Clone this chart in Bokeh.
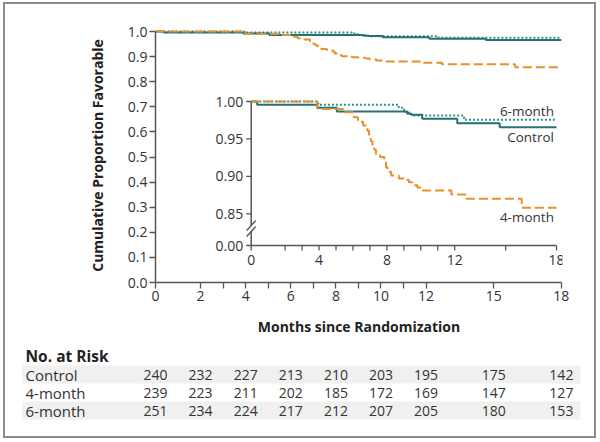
from bokeh.plotting import figure
from bokeh.layouts import column
from bokeh.models import Range1d, FixedTicker, NumeralTickFormatter
from bokeh.core.properties import value
from bokeh.embed import file_html
from bokeh.resources import INLINE

# ---------------- data ----------------
ctrl_t = [0, 0.35, 3.9, 5.05, 9.2, 9.45, 10.08, 12.15, 14.65, 18]
ctrl_s = [1.0, 0.9957, 0.9916, 0.9866, 0.9835, 0.9822, 0.9769, 0.9710, 0.9657, 0.9657]

m4_t = [0, 3.9, 5.45, 6.05, 6.3, 6.6, 6.85, 6.95, 7.05, 7.15, 7.25, 7.35, 7.6, 7.85,
        7.95, 8.05, 8.25, 8.7, 9.0, 9.3, 9.5, 9.8, 10.1, 11.8, 12.7, 15.95, 18]
m4_s = [1.0, 0.990, 0.9857, 0.979, 0.973, 0.968, 0.961, 0.952, 0.947, 0.942, 0.936, 0.930,
        0.926, 0.920, 0.912, 0.906, 0.901, 0.897, 0.895, 0.892, 0.888, 0.885, 0.881,
        0.8758, 0.870, 0.858, 0.858]

m6_t = [0, 3.95, 8.7, 8.9, 9.1, 9.3, 9.45, 12.55, 18]
m6_s = [1.0, 0.9956, 0.992, 0.989, 0.986, 0.983, 0.9813, 0.9756, 0.9756]

x_ticks = [0, 2, 3, 4, 5, 6, 7, 8, 9, 10, 11, 12, 15, 18]
x_labels_main = [0, 2, 4, 6, 8, 10, 12, 15, 18]
y_ticks_main = [0.0, 0.1, 0.2, 0.3, 0.4, 0.5, 0.6, 0.7, 0.8, 0.9, 1.0]
x_labels_inset = [0, 4, 8, 12, 18]
y_ticks_inset = [1.00, 0.95, 0.90, 0.85]
y_labels_inset = ["1.00", "0.95", "0.90", "0.85"]

risk_months = [0, 2, 4, 6, 8, 10, 12, 15, 18]
risk_groups = ["Control", "4-month", "6-month"]
risk_control = [240, 232, 227, 213, 210, 203, 195, 175, 142]
risk_4mo = [239, 223, 211, 202, 185, 172, 169, 147, 127]
risk_6mo = [251, 234, 224, 217, 212, 207, 205, 180, 153]

# ---------------- style / layout ----------------
FONT = "Open Sans"
C_CTRL = "#26707a"
C_6MO = "#2f8f80"
C_4MO = "#e8912c"
AX = "#555555"
TXT = "#333333"

BORDER = 2
MARGIN_X, MARGIN_Y = 3, 2
OFFX, OFFY = MARGIN_X + BORDER, MARGIN_Y + BORDER   # page offset of content
WA = 589                     # content width
PB_TOP = 340                 # page y where table figure starts
PB_BOT = 436                 # page y where content ends
HA = PB_TOP - OFFY
HB = PB_BOT - PB_TOP
PX0, PW = 155.0, 407         # page x of frame left, frame width
PY0, FH = 28.0, 254          # page y of frame top, frame height
X_END, Y_END = 18.05, 1.012
ppm_main = PW / X_END

# inset placement (page px)
IX0, IX18 = 250.7, 556.0
IY100, IY085 = 101.0, 213.3
IY_FLOOR = 245.0
IY_BREAK = 228.0

ppm = (IX18 - IX0) / 18.0
ppu = (IY085 - IY100) / 0.15
ix_start = -(IX0 - PX0) / ppm
ix_end = (PX0 + PW - IX0) / ppm
iy_end = 1.0 + (IY100 - PY0) / ppu
iy_start = 1.0 - (PY0 + FH - IY100) / ppu
floor_v = 1.0 - (IY_FLOOR - IY100) / ppu
break_v = 1.0 - (IY_BREAK - IY100) / ppu

FL = int(PX0 - OFFX)
FT = int(PY0 - OFFY)
p = figure(frame_width=PW, frame_height=FH, min_border_left=FL, min_border_top=FT,
           min_border_right=WA - FL - PW, min_border_bottom=HA - FT - FH,
           x_range=Range1d(0, X_END), y_range=Range1d(0, Y_END),
           output_backend="svg", toolbar_location=None)
p.extra_x_ranges = {"ix": Range1d(ix_start, ix_end)}
p.extra_y_ranges = {"iy": Range1d(iy_start, iy_end)}
p.outline_line_color = None
p.xgrid.visible = False
p.ygrid.visible = False
p.background_fill_color = "white"
p.border_fill_color = "white"

for ax in (p.xaxis[0], p.yaxis[0]):
    ax.axis_line_color = AX
    ax.axis_line_width = 1.5
    ax.major_tick_line_color = AX
    ax.major_tick_line_width = 1.3
    ax.major_tick_in = 0
    ax.major_tick_out = 6
    ax.minor_tick_line_color = None
    ax.major_label_text_font = FONT
    ax.major_label_text_font_size = "14px"
    ax.major_label_text_color = TXT
    ax.axis_label_text_font = FONT
    ax.axis_label_text_font_style = "bold"
    ax.axis_label_text_font_size = "14px"
    ax.axis_label_text_color = "#222222"

p.xaxis.ticker = FixedTicker(ticks=x_ticks)
p.xaxis.major_label_overrides = {t: "" for t in x_ticks if t not in x_labels_main}
p.xaxis.bounds = (0, 18)
p.xaxis.axis_label = "Months since Randomization"
p.xaxis.major_label_standoff = 2
p.xaxis.axis_label_standoff = 13

p.yaxis.ticker = FixedTicker(ticks=y_ticks_main)
p.yaxis.formatter = NumeralTickFormatter(format="0.0")
p.yaxis.bounds = (0, 1)
p.yaxis.axis_label = "Cumulative Proportion Favorable"
p.yaxis.major_label_standoff = 2
p.yaxis.axis_label_standoff = 18

# ---- main curves
p.step(m6_t, m6_s, mode="after", line_color=C_6MO, line_width=2, line_dash="2 2")
p.step(ctrl_t, ctrl_s, mode="after", line_color=C_CTRL, line_width=2)
p.step(m4_t, m4_s, mode="after", line_color=C_4MO, line_width=2, line_dash="9 4")

# ---- inset axes (drawn in inset scale)
tick_dx = 5.0 / ppm
tick_dy = 5.0 / ppu
gap = 3.0 / ppu
kw = dict(x_range_name="ix", y_range_name="iy")
p.segment(x0=[0, 0], y0=[1.0, break_v - gap], x1=[0, 0], y1=[break_v + gap, floor_v],
          line_color=AX, line_width=1.5, **kw)
p.segment(x0=[0], y0=[floor_v], x1=[18], y1=[floor_v], line_color=AX, line_width=1.5, **kw)
yt = y_ticks_inset + [floor_v]
p.segment(x0=[-tick_dx] * len(yt), y0=yt, x1=[0] * len(yt), y1=yt,
          line_color=AX, line_width=1.3, **kw)
p.segment(x0=x_ticks, y0=[floor_v] * len(x_ticks), x1=x_ticks,
          y1=[floor_v - tick_dy] * len(x_ticks), line_color=AX, line_width=1.3, **kw)
bx = 4.5 / ppm
by = 5.0 / ppu
p.segment(x0=[-bx, -bx], y0=[break_v - by - gap, break_v - by + gap],
          x1=[bx, bx], y1=[break_v + by - gap, break_v + by + gap],
          line_color=AX, line_width=1.3, **kw)

p.text(x=[-tick_dx] * len(yt), y=yt, text=y_labels_inset + ["0.00"], x_offset=-3,
       text_align="right", text_baseline="middle", text_font=value(FONT),
       text_font_size="14px", text_color=TXT, **kw)
p.text(x=x_labels_inset, y=[floor_v] * len(x_labels_inset),
       text=[str(v) for v in x_labels_inset], y_offset=9, text_align="center",
       text_baseline="top", text_font=value(FONT), text_font_size="14px",
       text_color=TXT, **kw)

# ---- inset curves
p.step(m6_t, m6_s, mode="after", line_color=C_6MO, line_width=2, line_dash="2 2", **kw)
p.step(ctrl_t, ctrl_s, mode="after", line_color=C_CTRL, line_width=2, **kw)
p.step(m4_t, m4_s, mode="after", line_color=C_4MO, line_width=2, line_dash="9 4", **kw)

p.text(x=[17.85, 17.85, 17.85], y=[m6_s[-1], ctrl_s[-1], m4_s[-1]],
       text=["6-month", "Control", "4-month"], y_offset=[-9, 10, 9.5],
       text_align="right", text_baseline="middle", text_font=value(FONT),
       text_font_size="13.5px", text_color=TXT, **kw)

# ---------------- number-at-risk table ----------------
bx_start = (OFFX - PX0) / ppm_main
bx_end = (OFFX + WA - PX0) / ppm_main
t = figure(width=WA, height=HB, min_border=0, x_range=Range1d(bx_start, bx_end),
           y_range=Range1d(PB_TOP + HB, PB_TOP), output_backend="svg",
           toolbar_location=None)
for fig in (p, t):
    if "frame_align" in fig.properties():
        fig.frame_align = False
t.extra_x_ranges = {"px": Range1d(OFFX, OFFX + WA)}
t.axis.visible = False
t.xgrid.visible = False
t.ygrid.visible = False
t.outline_line_color = None
t.background_fill_color = "white"
t.border_fill_color = "white"

row_y = [374, 392, 410]
ROW_H = 18
t.quad(left=[22, 22], right=[580, 580], top=[row_y[0] - ROW_H / 2, row_y[2] - ROW_H / 2],
       bottom=[row_y[0] + ROW_H / 2, row_y[2] + ROW_H / 2], fill_color="#f0f0f0",
       line_color=None, x_range_name="px")
t.text(x=[25], y=[355], text=["No. at Risk"], text_font=value(FONT),
       text_font_style="bold", text_font_size="15.5px", text_color="#222222",
       text_baseline="middle", x_range_name="px")
t.text(x=[25] * 3, y=row_y, text=risk_groups, text_font=value(FONT),
       text_font_size="15px", text_color=TXT, text_baseline="middle", x_range_name="px")
for yy, vals in zip(row_y, [risk_control, risk_4mo, risk_6mo]):
    t.text(x=risk_months, y=[yy] * len(vals), text=[str(v) for v in vals],
           text_align="center", text_baseline="middle", text_font=value(FONT),
           text_font_size="14px", text_color=TXT)

layout = column(p, t, spacing=0,
                styles={"border": f"{BORDER}px solid #8c8c8c", "background": "white",
                        "margin": f"{MARGIN_Y}px 0px 0px {MARGIN_X}px"})

open("out.html", "w").write(file_html(layout, INLINE))
